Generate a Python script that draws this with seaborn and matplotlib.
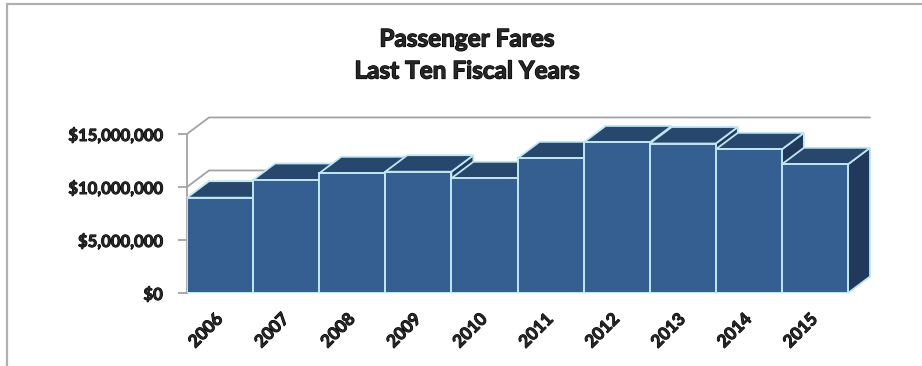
import matplotlib
matplotlib.use("Agg")
import matplotlib.pyplot as plt
import matplotlib.patheffects as pe
from matplotlib.patches import Polygon
from matplotlib.lines import Line2D
from matplotlib.ticker import FuncFormatter
import seaborn as sns
import pandas as pd

# Passenger fare revenue by fiscal year
years = ["2006", "2007", "2008", "2009", "2010", "2011", "2012", "2013", "2014", "2015"]
fares = [8990000, 10660000, 11290000, 11440000, 10820000, 12700000, 14200000, 14100000, 13550000, 12140000]
y_ticks = [0, 5000000, 10000000, 15000000]
title_lines = ["Passenger Fares", "Last Ten Fiscal Years"]

FRONT = "#365f91"
TOP = "#27476d"
SIDE = "#213a5b"
EDGE = "#bfe7f3"
GRID = "#a3a3a3"
HEAVY = [pe.withStroke(linewidth=0.7, foreground="black")]

sns.set_style("white")
plt.rcParams["font.family"] = ["Lato", "DejaVu Sans"]

df = pd.DataFrame({"year": years, "fare": fares})

W, H = 922, 366
fig = plt.figure(figsize=(W / 100, H / 100), dpi=100)

# axes geometry in pixels
x0_px, base_px, top_px = 187, 293, 117
unit_px = 66.1
depth_dx_px, depth_dy_px = 22, 16.5
ymax = 16.6e6
x_right = 9.5 + depth_dx_px / unit_px + 0.01
ax_w_px = (x_right + 0.5) * unit_px
ax_h_px = base_px - top_px
ax = fig.add_axes([x0_px / W, (H - base_px) / H, ax_w_px / W, ax_h_px / H])

sns.barplot(data=df, x="year", y="fare", color=FRONT, saturation=1, width=1.0,
            edgecolor=EDGE, linewidth=1.4, ax=ax)

ax.set_xlim(-0.5, x_right)
ax.set_ylim(0, ymax)

dx = depth_dx_px / unit_px
dy = depth_dy_px / ax_h_px * ymax

# back wall gridlines and left wall connectors
for v in y_ticks:
    ax.plot([-0.5, -0.5 + dx, 9.5 + dx], [v, v + dy, v + dy], color=GRID, lw=1.3,
            zorder=0.5, clip_on=False, solid_joinstyle="miter")

# extrude each bar: side, top, then front, painted left to right
for i, bar in enumerate(ax.patches):
    x = bar.get_x()
    w = bar.get_width()
    h = bar.get_height()
    z = 2 + 3 * i
    side = Polygon([(x + w, 0), (x + w + dx, dy), (x + w + dx, h + dy), (x + w, h)],
                   closed=True, facecolor=SIDE, edgecolor=EDGE, lw=1.3, zorder=z,
                   joinstyle="miter", clip_on=False)
    top = Polygon([(x, h), (x + dx, h + dy), (x + w + dx, h + dy), (x + w, h)],
                  closed=True, facecolor=TOP, edgecolor=EDGE, lw=1.3, zorder=z + 1,
                  joinstyle="miter", clip_on=False)
    ax.add_patch(side)
    ax.add_patch(top)
    bar.set_zorder(z + 2)

for s in ["top", "right", "bottom"]:
    ax.spines[s].set_visible(False)
ax.spines["left"].set_color(GRID)
ax.spines["left"].set_linewidth(1.3)
ax.spines["left"].set_bounds(0, y_ticks[-1])

ax.set_yticks(y_ticks)
ax.yaxis.set_major_formatter(FuncFormatter(lambda v, p: f"${v:,.0f}"))
ax.tick_params(axis="y", length=6.5, width=1.3, color=GRID, pad=11,
               labelsize=12, left=True)
for t in ax.get_yticklabels():
    t.set_fontweight("bold")
    t.set_path_effects(HEAVY)

ax.tick_params(axis="x", length=0, pad=17, labelsize=12.5)
for t in ax.get_xticklabels():
    t.set_fontweight("bold")
    t.set_path_effects(HEAVY)
    t.set_rotation(45)
    t.set_ha("right")
    t.set_va("center")
    t.set_rotation_mode("anchor")

ax.set_xlabel("")
ax.set_ylabel("")
ax.patch.set_alpha(0)

for line, ypx in zip(title_lines, [39, 71]):
    fig.text(467 / W, 1 - ypx / H, line, ha="center", va="center",
             fontsize=17.5, fontweight="bold",
             path_effects=[pe.withStroke(linewidth=0.9, foreground="black")])

# chart frame
fig.add_artist(Line2D([6.5 / W, 6.5 / W], [0, 1 - 3.5 / H], transform=fig.transFigure,
                      color="#b0b0b0", lw=1.6))
fig.add_artist(Line2D([6.5 / W, 1], [1 - 3.5 / H, 1 - 3.5 / H], transform=fig.transFigure,
                      color="#b0b0b0", lw=1.6))

fig.savefig("out.png", dpi=100)
